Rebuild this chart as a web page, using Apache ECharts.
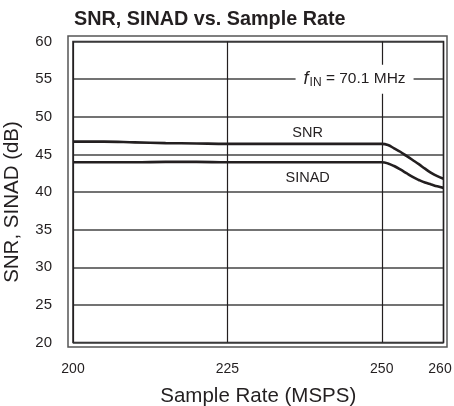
<!DOCTYPE html>
<html>
<head>
<meta charset="utf-8">
<script src="https://cdn.jsdelivr.net/npm/echarts@6/dist/echarts.min.js"></script>
<style>
html,body{margin:0;padding:0;background:#fff;}
#c{width:454px;height:406px;}
</style>
</head>
<body>
<div id="c"></div>
<script>
const sampleRate = [200, 205, 210, 215, 220, 225, 230, 235, 240, 245, 250, 251, 252, 253, 254, 255, 256, 257, 258, 259, 260];
const snr =   [46.7, 46.7, 46.6, 46.5, 46.45, 46.4, 46.4, 46.4, 46.4, 46.4, 46.4, 46.25, 45.8, 45.35, 44.8, 44.25, 43.7, 43.1, 42.55, 42.1, 41.75];
const sinad = [43.95, 43.95, 43.95, 44.0, 44.0, 43.95, 43.95, 43.95, 43.95, 43.95, 43.95, 43.8, 43.45, 43.0, 42.5, 42.0, 41.6, 41.25, 41.0, 40.75, 40.55];
const xTicks = [200, 225, 250, 260];
const yTicks = [20, 25, 30, 35, 40, 45, 50, 55, 60];
const snrLabelAt = [238, 47.9];
const sinadLabelAt = [238, 41.9];
const fInLabelAt = [245.6, 55];

const FONT = 'Liberation Sans, Arial, Helvetica, sans-serif';
const INK = '#231f20';

const chart = echarts.init(document.getElementById('c'), null, {renderer: 'canvas'});
const toPairs = (xs, ys) => xs.map((x, i) => [x, ys[i]]);
const xMax = xTicks[xTicks.length - 1];

chart.setOption({
  animation: false,
  backgroundColor: '#fff',
  textStyle: {fontFamily: FONT, color: INK},
  title: {
    text: 'SNR, SINAD vs. Sample Rate',
    left: 69, top: 5,
    textStyle: {fontFamily: FONT, fontWeight: 'bold', fontSize: 19.8, color: INK}
  },
  grid: {left: 73, top: 41.5, right: 10.5, bottom: 63.5, show: true, borderColor: INK, borderWidth: 1.5,
    backgroundColor: 'transparent', containLabel: false, outerBoundsMode: 'none'},
  graphic: [{
    type: 'rect', silent: true, z: 0,
    shape: {x: 68, y: 36, width: 379, height: 311},
    style: {fill: 'none', stroke: '#555', lineWidth: 1.5}
  }],
  xAxis: {
    type: 'value', min: xTicks[0], max: xMax, interval: 25,
    name: 'Sample Rate (MSPS)', nameLocation: 'middle', nameGap: 43,
    nameTextStyle: {fontFamily: FONT, fontSize: 20.5, color: INK},
    axisLine: {show: false}, axisTick: {show: false},
    axisLabel: {fontFamily: FONT, fontSize: 14, color: INK, margin: 20, showMaxLabel: true, showMinLabel: true,
      customValues: xTicks,
      formatter: v => v === xMax ? '{r|' + v + '}' : String(v),
      rich: {r: {fontFamily: FONT, fontSize: 14, color: INK, padding: [0, 7, 0, 0]}}},
    splitLine: {show: true, lineStyle: {color: INK, width: 1.2}}
  },
  yAxis: {
    type: 'value', min: yTicks[0], max: yTicks[yTicks.length - 1], interval: 5,
    name: 'SNR, SINAD (dB)', nameLocation: 'middle', nameGap: 50,
    nameTextStyle: {fontFamily: FONT, fontSize: 20.5, color: INK, padding: [0, 20, 0, 0]},
    axisLine: {show: false}, axisTick: {show: false},
    axisLabel: {fontFamily: FONT, fontSize: 15, color: INK, margin: 21},
    splitLine: {show: true, lineStyle: {color: '#444', width: 1.5}}
  },
  series: [{
    type: 'line', name: 'SNR', data: toPairs(sampleRate, snr), smooth: 0.4, showSymbol: false,
    lineStyle: {color: INK, width: 2.6}, z: 5,
    markPoint: {
      symbol: 'rect', symbolSize: 0, silent: true,
      data: [
        {coord: snrLabelAt, label: {show: true, position: 'inside', formatter: 'SNR', fontFamily: FONT, fontSize: 14.5, color: INK}},
        {coord: sinadLabelAt, label: {show: true, position: 'inside', formatter: 'SINAD', fontFamily: FONT, fontSize: 14.5, color: INK}},
        {coord: fInLabelAt, label: {show: true, position: 'inside',
          formatter: '{f|f}{sub|IN}{t| = 70.1 MHz}',
          backgroundColor: '#fff', padding: [5, 8, 5, 8],
          rich: {
            f: {fontFamily: FONT, fontStyle: 'italic', fontSize: 18, color: INK},
            sub: {fontFamily: FONT, fontSize: 12, color: INK, verticalAlign: 'bottom', padding: [7, 0, 0, 1]},
            t: {fontFamily: FONT, fontSize: 15.5, color: INK}
          }}}
      ]
    }
  }, {
    type: 'line', name: 'SINAD', data: toPairs(sampleRate, sinad), smooth: 0.4, showSymbol: false,
    lineStyle: {color: INK, width: 2.6}, z: 5
  }]
});
</script>
</body>
</html>
